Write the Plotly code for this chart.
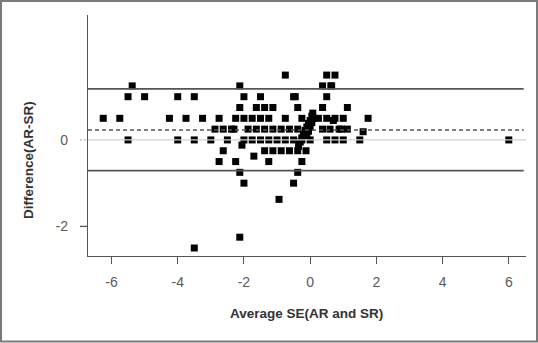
import plotly.graph_objects as go

# Bland-Altman data: average SE (x) and difference AR-SR (y)
avg_se = [
    # row 1.5
    -0.75, 0.5, 0.75,
    # row 1.25
    -5.375, -2.125, 0.375, 0.625, 0.65,
    # row 1.0
    -5.5, -5.0, -4.0, -3.5, -2.0, -1.5, -0.5, -0.45, 0.5,
    # row 0.75
    -2.125, -1.625, -1.375, -1.125, -0.375, 0.375, 1.125,
    # row 0.5
    -6.25, -5.75, -4.25, -3.75, -3.25, -2.75, -2.25, -2.0, -1.75, -1.5, -1.25,
    -0.75, -0.25, 0.25, 0.5, 0.75, 1.0, 1.75, 0.7,
    # row 0.25
    -2.875, -2.625, -2.375, -2.3, -1.875, -1.625, -1.375, -1.125, -0.875,
    -0.625, -0.375, 0.375, 0.6, 0.875, 0.94, 1.125, 1.6,
    # row 0
    -5.5, -4.0, -3.5, -3.0, -2.5, -2.0, -1.75, -1.5, -1.25, -1.0, -0.75,
    -0.5, -0.25, 0.0, 0.5, 0.75, 1.0, 1.5, 6.0,
    # negative rows
    -2.06, -2.625, -1.375, -1.125, -0.875, -0.625, -0.375, -0.125, -1.7,
    -2.75, -2.25, -1.25, -0.25, -2.125, -0.375, -2.0, -0.5, -0.94,
    -2.125, -3.5,
    # diagonal cluster near zero
    -0.35, -0.3, -0.25, -0.2, -0.15, -0.1, -0.05, 0.0, 0.05, 0.08,
    -0.1, -0.05, 0.0, 0.05, 0.1,
]
diff_ar_sr = [
    1.5, 1.5, 1.5,
    1.25, 1.25, 1.25, 1.25, 1.25,
    1.0, 1.0, 1.0, 1.0, 1.0, 1.0, 1.0, 1.0, 1.0,
    0.75, 0.75, 0.75, 0.75, 0.75, 0.75, 0.75,
    0.5, 0.5, 0.5, 0.5, 0.5, 0.5, 0.5, 0.5, 0.5, 0.5, 0.5,
    0.5, 0.5, 0.5, 0.5, 0.5, 0.5, 0.5, 0.45,
    0.25, 0.25, 0.25, 0.25, 0.25, 0.25, 0.25, 0.25, 0.25,
    0.25, 0.25, 0.25, 0.25, 0.25, 0.25, 0.25, 0.19,
    0.0, 0.0, 0.0, 0.0, 0.0, 0.0, 0.0, 0.0, 0.0, 0.0, 0.0,
    0.0, 0.0, 0.0, 0.0, 0.0, 0.0, 0.0, 0.0,
    -0.12, -0.25, -0.25, -0.25, -0.25, -0.25, -0.25, -0.25, -0.375,
    -0.5, -0.5, -0.5, -0.5, -0.75, -0.75, -1.0, -1.0, -1.375,
    -2.25, -2.5,
    -0.15, -0.05, 0.05, 0.15, 0.22, 0.3, 0.38, 0.45, 0.55, 0.62,
    0.1, 0.2, 0.3, 0.4, 0.5,
]

mean_diff = 0.23
upper_loa = 1.18
lower_loa = -0.71

x_ticks = [-6, -4, -2, 0, 2, 4, 6]
y_ticks = [-2, 0]
x_title = "Average SE(AR and SR)"
y_title = "Difference(AR-SR)"

X_RANGE = [-6.71, 6.52]
Y_RANGE = [-2.685, 2.89]

fig = go.Figure()
fig.add_trace(go.Scatter(
    x=avg_se, y=diff_ar_sr, mode="markers",
    marker=dict(symbol="square", size=7, color="black", line=dict(width=0)),
    showlegend=False, hoverinfo="skip",
))

line_x1 = 6.45
shapes = [
    dict(type="line", xref="x", yref="y", x0=X_RANGE[0], x1=line_x1,
         y0=upper_loa, y1=upper_loa, line=dict(color="#555555", width=1.6), layer="above"),
    dict(type="line", xref="x", yref="y", x0=X_RANGE[0], x1=line_x1,
         y0=lower_loa, y1=lower_loa, line=dict(color="#555555", width=1.6), layer="above"),
    dict(type="line", xref="x", yref="y", x0=X_RANGE[0], x1=line_x1,
         y0=mean_diff, y1=mean_diff, line=dict(color="#555555", width=1.4, dash="4px,3px"), layer="above"),
    dict(type="line", xref="x", yref="y", x0=X_RANGE[0], x1=X_RANGE[1],
         y0=0, y1=0, line=dict(color="#d8cfd2", width=1.2), layer="above"),
    # y-axis ticks (zero tick drawn light, as in the reference)
    dict(type="line", xref="paper", yref="y", x0=-8.0/438, x1=0, y0=y_ticks[0], y1=y_ticks[0],
         line=dict(color="#555555", width=1.3)),
    dict(type="line", xref="paper", yref="y", x0=-8.0/438, x1=0, y0=y_ticks[1], y1=y_ticks[1],
         line=dict(color="#b8b8b8", width=1.2, dash="2px,2px")),
    # outer frame of the figure
    dict(type="rect", xref="paper", yref="paper",
         x0=-87.0/438, x1=449.0/438, y0=-85.5/241, y1=14.0/241 + 1,
         line=dict(color="#7a7a7a", width=2), fillcolor="rgba(0,0,0,0)"),
]

font_family = "Liberation Sans, Arial, sans-serif"
fig.update_layout(
    width=538, height=343,
    margin=dict(l=88, r=12, t=15, b=87),
    paper_bgcolor="white", plot_bgcolor="white",
    font=dict(family=font_family, size=14, color="#555555"),
    shapes=shapes,
    xaxis=dict(
        range=X_RANGE, tickmode="array", tickvals=x_ticks,
        ticktext=[str(v) for v in x_ticks],
        showgrid=False, zeroline=False, showline=True, linecolor="#555555", linewidth=1.3,
        ticks="outside", ticklen=7, tickcolor="#555555", tickwidth=1.3,
        ticklabelstandoff=6, tickfont=dict(size=14, color="#5a5a5a"),
    ),
    yaxis=dict(
        range=Y_RANGE, tickmode="array", tickvals=y_ticks,
        ticktext=[str(v) for v in y_ticks],
        showgrid=False, zeroline=False, showline=True, linecolor="#555555", linewidth=1.3,
        ticks="outside", ticklen=8, tickcolor="rgba(0,0,0,0)", tickwidth=1.3,
        ticklabelstandoff=8, tickfont=dict(size=14, color="#5a5a5a"),
    ),
    annotations=[
        dict(text="<b>" + x_title + "</b>", xref="paper", yref="paper",
             x=(306.5 - 88) / 438, y=(256 - 313) / 241, xanchor="center", yanchor="middle",
             showarrow=False, font=dict(size=13.5, color="#333333", family=font_family)),
        dict(text="<b>" + y_title + "</b>", xref="paper", yref="paper",
             x=(28 - 88) / 438, y=(256 - 160) / 241, xanchor="center", yanchor="middle",
             textangle=-90, showarrow=False,
             font=dict(size=13.5, color="#333333", family=font_family)),
    ],
)

fig.write_html(
    "out.html",
    config={"displayModeBar": False},
    post_script="document.body.style.margin='0px';document.body.style.overflow='hidden';",
)
